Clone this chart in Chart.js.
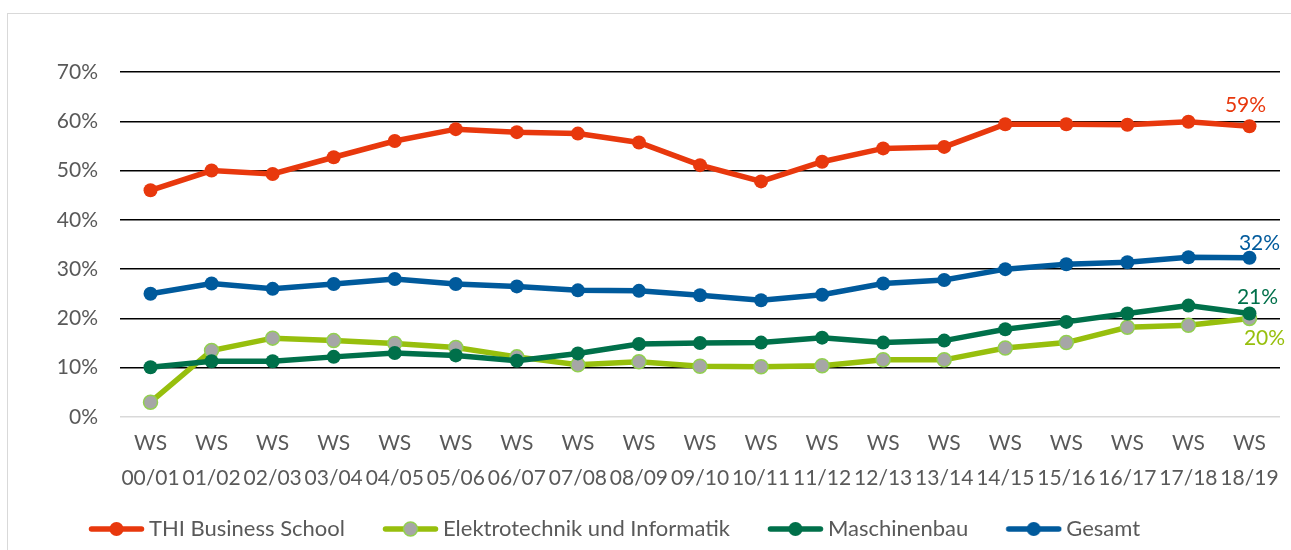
<!DOCTYPE html>
<html>
<head>
<meta charset="utf-8">
<script src="https://cdn.jsdelivr.net/npm/chart.js@4"></script>
<style>
  html, body { margin: 0; padding: 0; background: #fff; overflow: hidden; }
  #wrap { position: relative; width: 1291px; height: 550px; }
  #frame { position: absolute; left: 7px; top: 13px; width: 1300px; height: 600px; border: 1px solid #d9d9d9; }
  canvas { position: absolute; left: 0; top: 0; }
</style>
</head>
<body>
<div id="wrap"><div id="frame"></div><canvas id="chart" width="1291" height="550"></canvas></div>
<script>
// Semester labels (two lines each)
const semesters = [
    ["WS", "00/01"], ["WS", "01/02"], ["WS", "02/03"], ["WS", "03/04"], ["WS", "04/05"],
    ["WS", "05/06"], ["WS", "06/07"], ["WS", "07/08"], ["WS", "08/09"], ["WS", "09/10"],
    ["WS", "10/11"], ["WS", "11/12"], ["WS", "12/13"], ["WS", "13/14"], ["WS", "14/15"],
    ["WS", "15/16"], ["WS", "16/17"], ["WS", "17/18"], ["WS", "18/19"],
];

// Values in percent
const businessSchool = [46.0, 50.0, 49.3, 52.7, 56.0, 58.4, 57.8, 57.5, 55.7, 51.1, 47.8, 51.8, 54.5, 54.8, 59.4, 59.4, 59.3, 59.9, 59.0];
const elektrotechnik = [3.0, 13.5, 16.0, 15.5, 14.9, 14.1, 12.2, 10.6, 11.2, 10.3, 10.2, 10.4, 11.6, 11.6, 14.0, 15.1, 18.2, 18.6, 20.0];
const maschinenbau = [10.1, 11.3, 11.3, 12.2, 13.0, 12.5, 11.4, 12.9, 14.8, 15.0, 15.1, 16.1, 15.1, 15.5, 17.8, 19.3, 21.0, 22.6, 21.0];
const gesamt = [25.0, 27.1, 26.0, 27.0, 28.0, 27.0, 26.5, 25.7, 25.6, 24.7, 23.7, 24.8, 27.1, 27.8, 30.0, 31.0, 31.4, 32.4, 32.3];

const yTicks = [0, 10, 20, 30, 40, 50, 60, 70];

const RED = "#E8380D";
const LIME = "#97BF0D";
const GREEN = "#00704A";
const BLUE = "#005A9C";
const TEXT = "#595959";
const FONT = "Lato";

// line+dot image for the legend; box is 66 wide, the image is drawn centred on it,
// so the line sits on the right part close to the text
function legendIcon(line, fill, border) {
    const c = document.createElement("canvas");
    c.width = 80;
    c.height = 18;
    const g = c.getContext("2d");
    g.strokeStyle = line;
    g.lineWidth = 5.5;
    g.lineCap = "round";
    g.beginPath();
    g.moveTo(26.5, 9);
    g.lineTo(76.5, 9);
    g.stroke();
    g.fillStyle = fill;
    g.beginPath();
    g.arc(51.5, 9, 7, 0, Math.PI * 2);
    g.fill();
    if (border) {
        g.strokeStyle = border;
        g.lineWidth = 1.5;
        g.stroke();
    }
    return c;
}

const icons = [
    legendIcon(RED, RED),
    legendIcon(LIME, "#A6A6A6", "#92D050"),
    legendIcon(GREEN, GREEN),
    legendIcon(BLUE, BLUE),
];

// offsets of the end-value labels from the last point
const labelOffsets = [[-4, -21], [15, 20], [8, -16], [10, -15]];

const endLabels = {
    id: "endLabels",
    afterDatasetsDraw(chart) {
        const ctx = chart.ctx;
        ctx.save();
        ctx.font = "21px " + FONT;
        ctx.textAlign = "center";
        ctx.textBaseline = "middle";
        chart.data.datasets.forEach((ds, i) => {
            const meta = chart.getDatasetMeta(i);
            const last = meta.data[meta.data.length - 1];
            const v = ds.data[ds.data.length - 1];
            ctx.fillStyle = ds.labelColor;
            ctx.fillText(Math.round(v) + "%", last.x + labelOffsets[i][0], last.y + labelOffsets[i][1]);
        });
        ctx.restore();
    },
};

const shiftLegend = {
    id: "shiftLegend",
    afterLayout(chart) {
        chart.legend.left -= 34;
        chart.legend.right -= 34;
    },
};

function line(label, data, color, pointFill, pointBorder, order) {
    return {
        label: label,
        data: data,
        borderColor: color,
        backgroundColor: color,
        borderWidth: 5.5,
        pointRadius: 7,
        pointHoverRadius: 7,
        pointBackgroundColor: pointFill,
        pointBorderColor: pointBorder,
        pointBorderWidth: pointBorder === pointFill ? 0 : 1.5,
        tension: 0,
        order: order,
        labelColor: color,
    };
}

new Chart(document.getElementById("chart"), {
    type: "line",
    data: {
        labels: semesters,
        datasets: [
            line("THI Business School", businessSchool, RED, RED, RED, 4),
            line("Elektrotechnik und Informatik", elektrotechnik, LIME, "#A6A6A6", "#92D050", 3),
            line("Maschinenbau", maschinenbau, GREEN, GREEN, GREEN, 2),
            line("Gesamt", gesamt, BLUE, BLUE, BLUE, 1),
        ],
    },
    options: {
        responsive: false,
        animation: false,
        devicePixelRatio: 1,
        layout: { padding: { top: 72, right: 11, bottom: 0, left: 0 } },
        plugins: {
            tooltip: { enabled: false },
            legend: {
                position: "bottom",
                labels: {
                    usePointStyle: true,
                    pointStyleWidth: 66,
                    padding: 21,
                    color: TEXT,
                    font: { family: FONT, size: 22 },
                    generateLabels: (chart) =>
                        chart.data.datasets.map((ds, i) => ({
                            text: ds.label,
                            pointStyle: icons[i],
                            fontColor: TEXT,
                            fillStyle: "transparent",
                            strokeStyle: "transparent",
                            lineWidth: 0,
                            hidden: false,
                            datasetIndex: i,
                        })),
                },
            },
        },
        scales: {
            x: {
                offset: true,
                grid: { display: false, drawTicks: false },
                border: { display: false },
                ticks: {
                    color: TEXT,
                    padding: 8.5,
                    maxRotation: 0,
                    autoSkip: false,
                    font: { family: FONT, size: 21, lineHeight: "35px" },
                },
                afterFit: (scale) => { scale.height = 80; },
            },
            y: {
                min: 0,
                max: 70,
                afterBuildTicks: (scale) => { scale.ticks = yTicks.map((v) => ({ value: v })); },
                grid: {
                    drawTicks: false,
                    lineWidth: 1.5,
                    color: (c) => (c.tick && c.tick.value === 0 ? "#d9d9d9" : "#000000"),
                },
                border: { display: false },
                ticks: {
                    color: TEXT,
                    padding: 22,
                    font: { family: FONT, size: 21 },
                    callback: (v) => v + "%",
                },
                afterFit: (scale) => { scale.width = 120; },
            },
        },
    },
    plugins: [endLabels, shiftLegend],
});
</script>
</body>
</html>
